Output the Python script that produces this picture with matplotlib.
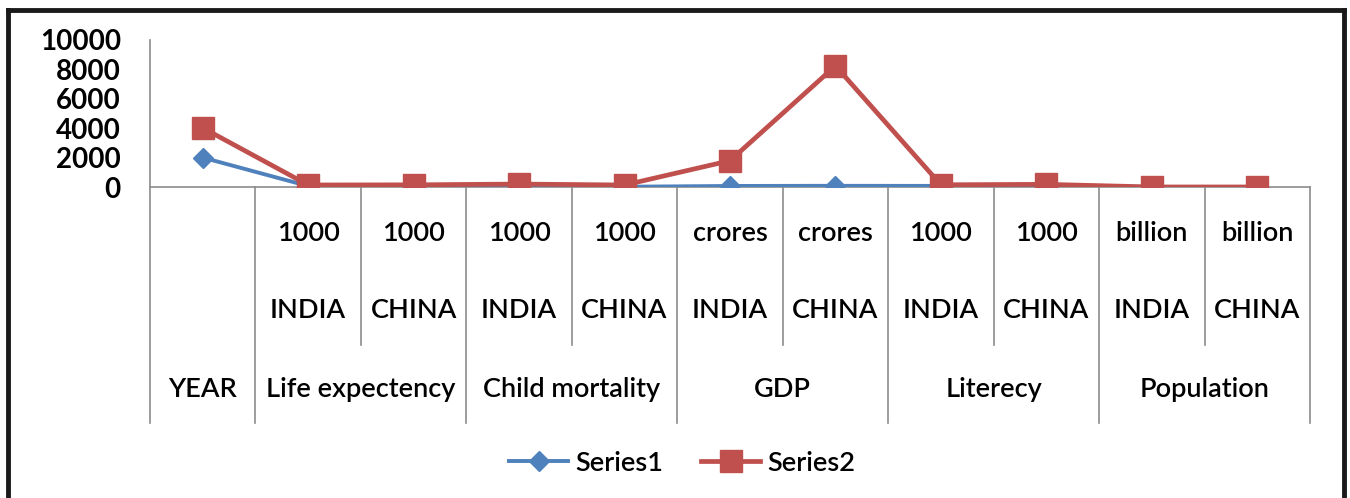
import matplotlib
matplotlib.use("Agg")
import matplotlib.pyplot as plt
import matplotlib.transforms as mtransforms
from matplotlib.lines import Line2D

plt.rcParams['font.family'] = ['Lato', 'DejaVu Sans']

# categories (three-level axis)
units = ["", "1000", "1000", "1000", "1000", "crores", "crores",
         "1000", "1000", "billion", "billion"]
countries = ["", "INDIA", "CHINA", "INDIA", "CHINA", "INDIA", "CHINA",
             "INDIA", "CHINA", "INDIA", "CHINA"]
groups = ["YEAR", "Life expectency", "Child mortality", "GDP", "Literecy", "Population"]
group_sizes = [1, 2, 2, 2, 2, 2]

series1 = [2000, 64, 73, 60, 17, 70, 80, 74, 94, 1.2, 1.3]
series2 = [4020, 138, 146, 200, 135, 1790, 8240, 150, 180, 2.4, 2.6]
y_ticks = [0, 2000, 4000, 6000, 8000, 10000]

W, H = 1350, 498
fig = plt.figure(figsize=(W / 100, H / 100), dpi=100)


def fy(py):
    return (H - py) / H


ax = fig.add_axes([150 / W, fy(187), 1160 / W, fy(40) - fy(187)])

x = list(range(len(series1)))
ax.plot(x, series1, color='#4F81BD', linewidth=2.8, marker='D', markersize=10.5,
        label='Series1', zorder=3)
ax.plot(x, series2, color='#C0504D', linewidth=3.4, marker='s', markersize=16,
        label='Series2', zorder=4)

ax.set_xlim(-0.5, len(x) - 0.5)
ax.set_ylim(0, 10000)
ax.set_yticks(y_ticks)
ax.set_yticklabels([str(v) for v in y_ticks], fontsize=20, fontweight='bold')
ax.tick_params(axis='y', length=0, pad=21)
ax.set_xticks([])
for side in ['top', 'right']:
    ax.spines[side].set_visible(False)
ax.spines['left'].set_visible(False)
ax.spines['bottom'].set_color('#8c8c8c')
ax.spines['bottom'].set_linewidth(1.2)

# multi-level category axis
trans = mtransforms.blended_transform_factory(ax.transData, fig.transFigure)
gray = '#8c8c8c'
lab_size = 19.5
lab_weight = 'semibold'

# left axis line, running down through the category rows
ax.add_line(Line2D([-0.5, -0.5], [fy(40), fy(423)], transform=trans, color=gray,
                   linewidth=1.2, clip_on=False))

for i in x:
    if units[i]:
        ax.text(i, fy(233), units[i], transform=trans, ha='center', va='center',
                fontsize=lab_size, fontweight=lab_weight)
    if countries[i]:
        ax.text(i, fy(310), countries[i], transform=trans, ha='center', va='center',
                fontsize=lab_size, fontweight=lab_weight)

start = 0
for name, n in zip(groups, group_sizes):
    center = start + (n - 1) / 2
    ax.text(center, fy(389), name, transform=trans, ha='center', va='center',
            fontsize=lab_size, fontweight=lab_weight)
    # short separators inside the group
    for k in range(1, n):
        xs = start + k - 0.5
        ax.add_line(Line2D([xs, xs], [fy(187), fy(345)], transform=trans,
                           color=gray, linewidth=1.2, clip_on=False))
    start += n
    xe = start - 0.5
    ax.add_line(Line2D([xe, xe], [fy(187), fy(423)], transform=trans,
                       color=gray, linewidth=1.2, clip_on=False))

# legend
leg = fig.legend(loc='center', bbox_to_anchor=(682 / W, fy(463)), ncol=2,
                 frameon=False, handlelength=2.2, columnspacing=1.4,
                 handletextpad=0.25, prop={'size': 19.5, 'weight': lab_weight})

# outer chart border
for xs, ys in [([8 / W, 8 / W], [0, fy(10)]), ([8 / W, 1344 / W], [fy(10), fy(10)]),
               ([1344 / W, 1344 / W], [fy(10), 0])]:
    fig.add_artist(Line2D(xs, ys, transform=fig.transFigure, color='#1a1a1a',
                          linewidth=3.5))

fig.savefig('out.png', dpi=100, facecolor='white')
